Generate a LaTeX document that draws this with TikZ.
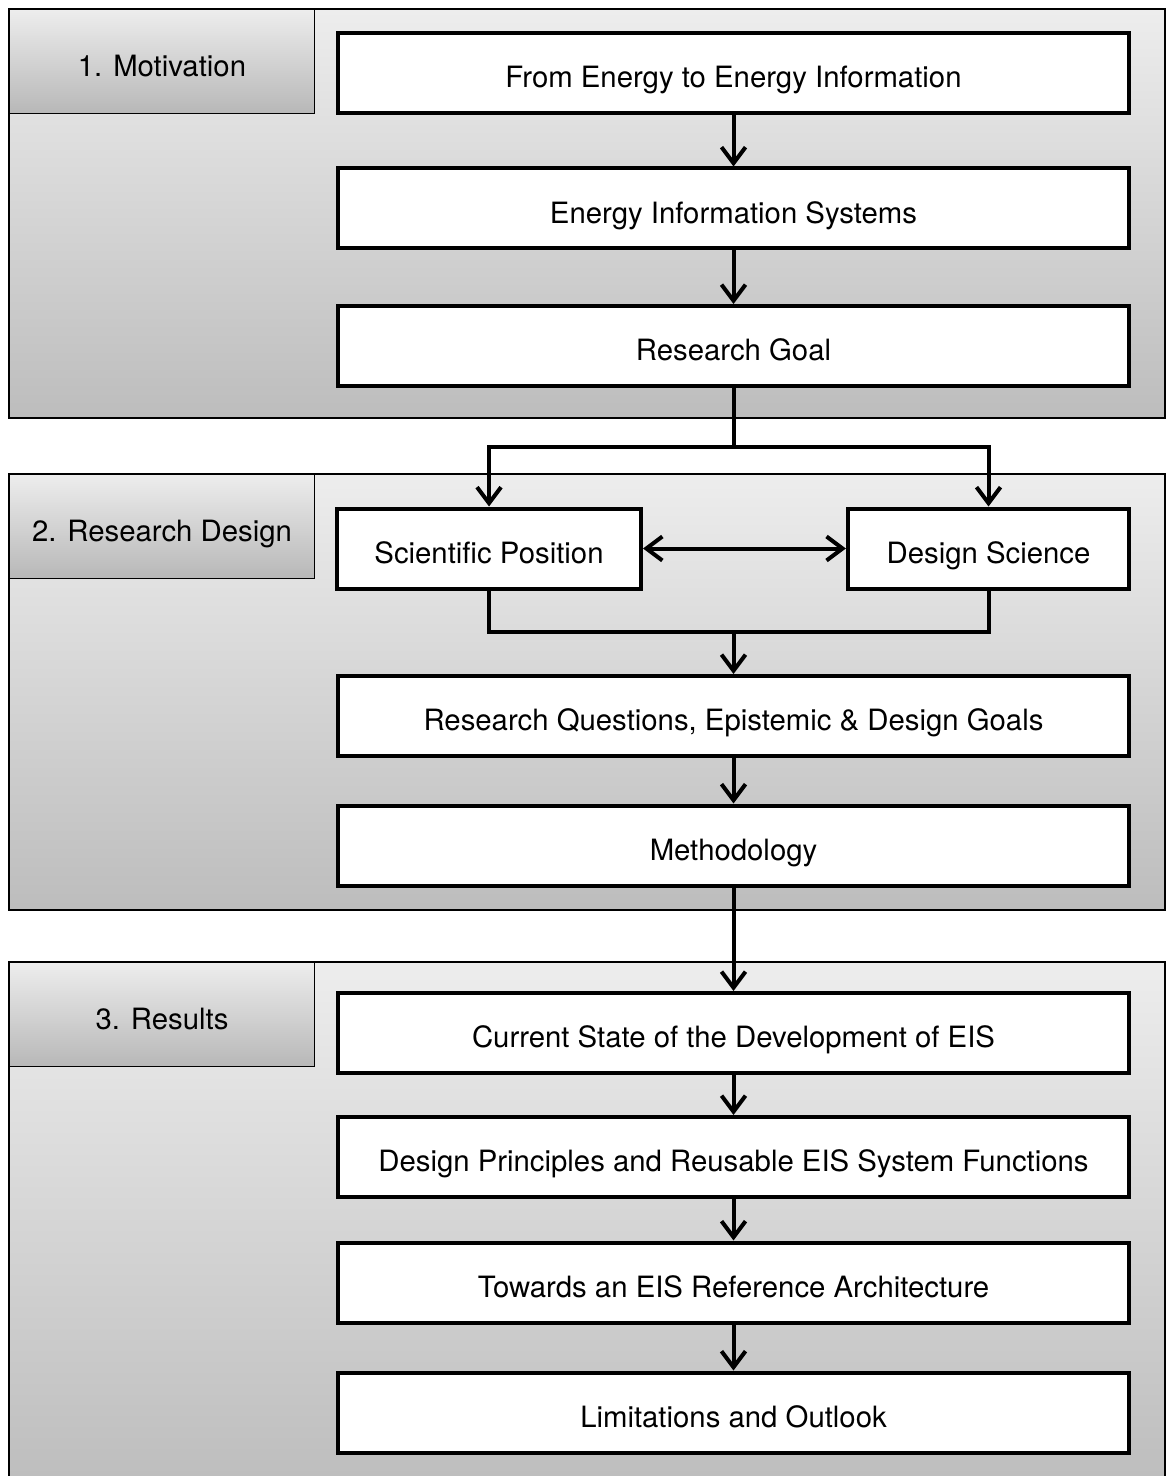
\documentclass[tikz,border=0pt]{standalone}
\usepackage{fontspec}
\setmainfont{TeX Gyre Heros}
\usetikzlibrary{arrows.meta,positioning}
\definecolor{paneltop}{gray}{0.93}
\definecolor{panelbottom}{gray}{0.74}
\definecolor{tabtop}{gray}{0.93}
\definecolor{tabbottom}{gray}{0.72}
\tikzset{
  panel/.style={draw, line width=1.5pt, top color=paneltop, bottom color=panelbottom},
  tab/.style={draw, line width=1pt, top color=tabtop, bottom color=tabbottom,
    minimum width=229pt, minimum height=78pt, inner sep=0pt, text height=22pt, text depth=0pt},
  stepbox/.style={draw, line width=3pt, fill=white, minimum height=60pt, inner sep=0pt,
    text height=22pt, text depth=0pt},
  wide/.style={stepbox, minimum width=593pt},
  flow/.style={line width=3pt, -{Straight Barb[length=12pt,width=18pt]}},
  link/.style={line width=3pt}
}
\begin{document}
\begin{tikzpicture}[x=0.75pt, y=-0.75pt, font=\fontsize{22}{26}\selectfont]
		\useasboundingbox (0,0) rectangle (1166,1476);
		
		% Rahmen der drei Abschnitte
		\draw[panel] (9,9) rectangle (1165,418);
		\draw[panel] (9,474) rectangle (1165,910);
		\draw[panel] (9,962) rectangle (1165,1490);
		
		\node[tab] (tabMotiv) at (162,61.5) {1. Motivation};
		\node[tab] (tabDesign) at (162,526.5) {2. Research Design};
		\node[tab] (tabResults) at (162,1014.5) {3. Results};
		
		% 1. Motivation
		\node[wide] (motiv) at (733.5,73) {From Energy to Energy Information};
		\node[wide] (eis) at (733.5,208.5) {Energy Information Systems};
		\node[wide] (goal) at (733.5,346) {Research Goal};
		
		% 2. Research Design
		\node[stepbox, minimum width=228pt] (position) at (489,548.5) {Scientific Position};
		\node[stepbox, minimum width=211pt] (dsr) at (988.5,548.5) {Design Science};
		\node[wide] (questions) at (733.5,716) {Research Questions, Epistemic \& Design Goals};
		\node[wide] (method) at (733.5,845.5) {Methodology};
		
		% 3. Results
		\node[wide] (state) at (733.5,1033) {Current State of the Development of EIS};
		\node[wide] (principles) at (733.5,1157) {Design Principles and Reusable EIS System Functions};
		\node[wide] (refarch) at (733.5,1282.5) {Towards an EIS Reference Architecture};
		\node[wide] (outlook) at (733.5,1412.5) {Limitations and Outlook};
		
		\coordinate (split) at (733.5,447);
		\coordinate (merge) at (733.5,632);
		
		% Verbindungen
		\draw[flow] (motiv) -- (eis);
		\draw[flow] (eis) -- (goal);
		\draw[link] (goal) -- (split);
		\draw[flow] (split) -| (position);
		\draw[flow] (split) -| (dsr);
		\draw[flow, {Straight Barb[length=12pt,width=18pt]}-{Straight Barb[length=12pt,width=18pt]}] (position) -- (dsr);
		\draw[link] (position) |- (merge);
		\draw[link] (dsr) |- (merge);
		\draw[flow] (merge) -- (questions);
		\draw[flow] (questions) -- (method);
		\draw[flow] (method) -- (state);
		\draw[flow] (state) -- (principles);
		\draw[flow] (principles) -- (refarch);
		\draw[flow] (refarch) -- (outlook);
	\end{tikzpicture}
\end{document}
